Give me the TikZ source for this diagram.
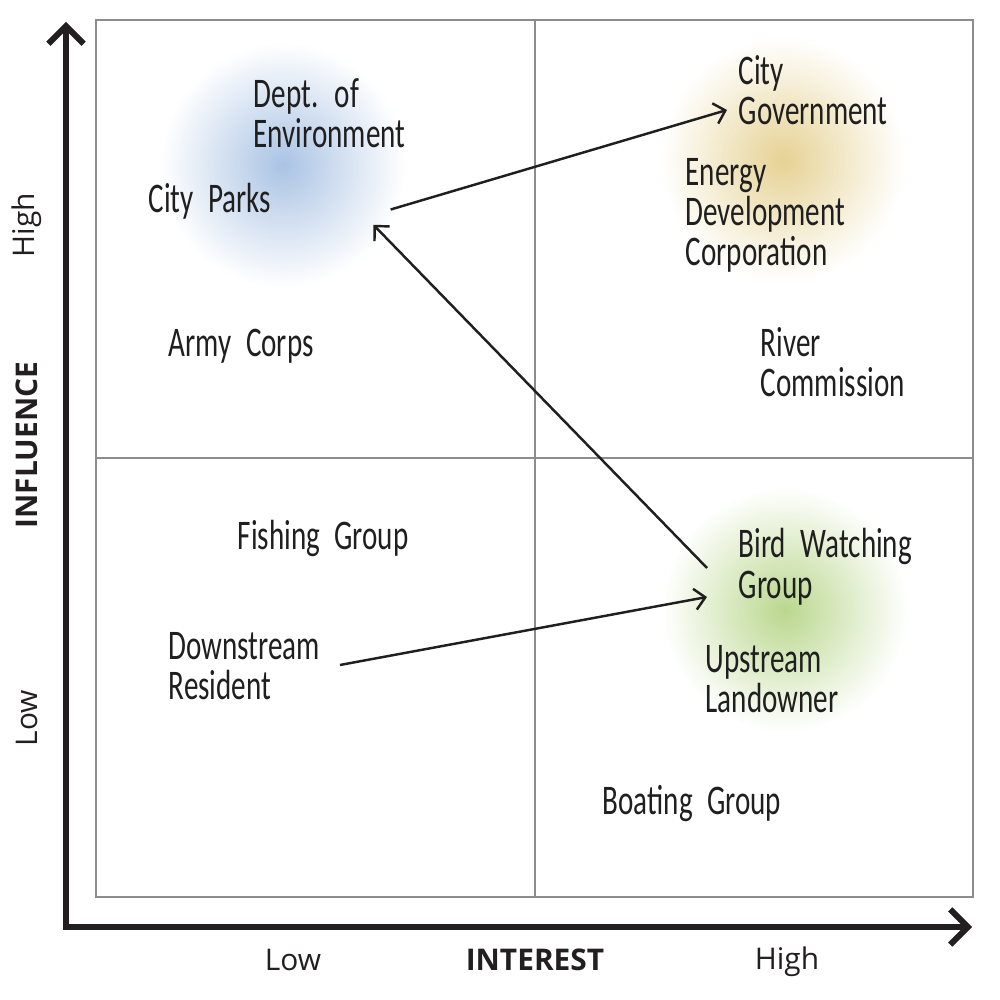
\documentclass[tikz,border=0pt]{standalone}
\usepackage{fontspec}
\usepackage{xcolor}
\usetikzlibrary{arrows.meta}
\usetikzlibrary{positioning}
\setmainfont{Open Sans}
\newfontfamily\handfont[FakeStretch=0.69, WordSpace=2.2]{Carlito}
\definecolor{glow-blue}{RGB}{170, 195, 228}
\definecolor{glow-yellow}{RGB}{230, 210, 148}
\definecolor{glow-green}{RGB}{186, 215, 142}
\definecolor{axis-grey}{RGB}{35, 31, 32}
\definecolor{box-grey}{RGB}{140, 140, 140}
\tikzset{
    glow/.style={circle, minimum size=2.45cm, inner sep=0pt, outer color=white},
    hand/.style={anchor=north west, inner sep=0pt, align=left, text=black!88,
        font=\handfont\fontsize{12}{11.4}\selectfont},
    axislabel/.style={font=\fontsize{8.5}{10}\selectfont, text=axis-grey},
    link/.style={line width=0.7pt, black!88, -{Straight Barb[length=3pt, width=6pt]}}
}
\begin{document}
\begin{tikzpicture}
                \useasboundingbox (0, 0) rectangle (10, 10);
                \node[glow, inner color=glow-blue] (blue) at (2.83, 8.35) {};
                \node[glow, inner color=glow-yellow] (yellow) at (7.83, 8.40) {};
                \node[glow, inner color=glow-green] (green) at (7.85, 3.90) {};
                \draw[box-grey, line width=0.6pt] (0.96, 1.03) rectangle (9.73, 9.80);
                \draw[box-grey, line width=0.6pt] (5.35, 1.03) -- (5.35, 9.80);
                \draw[box-grey, line width=0.6pt] (0.96, 5.42) -- (9.73, 5.42);
                \draw[axis-grey, line width=1.7pt, {Straight Barb[length=5pt, width=10pt]}-{Straight Barb[length=5pt, width=10pt]}] (0.66, 9.78) |- (9.72, 0.73);
                \node[hand] (dept) at (2.53, 9.22) {Dept. of\\Environment};
                \node[hand] (parks) at (1.48, 8.17) {City Parks};
                \node[hand] (army) at (1.68, 6.72) {Army Corps};
                \node[hand] (govt) at (7.38, 9.45) {City\\Government};
                \node[hand] (energy) at (6.85, 8.42) {Energy\\Development\\Corporation};
                \node[hand] (river) at (7.60, 6.73) {River\\Commission};
                \node[hand] (fishing) at (2.37, 4.80) {Fishing Group};
                \node[hand] (down) at (1.68, 3.68) {Downstream\\Resident};
                \node[hand] (bird) at (7.38, 4.72) {Bird Watching\\Group};
                \node[hand] (up) at (7.05, 3.55) {Upstream\\Landowner};
                \node[hand] (boating) at (6.02, 2.15) {Boating Group};
                \draw[link, shorten <=-0.85mm] (blue.-20) -- ([xshift=-1.1mm, yshift=-5.5mm]govt.north west);
                \draw[link, shorten >=-1.5mm] ([xshift=-3.1mm, yshift=-4.0mm]bird.north west) -- (blue.-35);
                \draw[link] ([xshift=17.2mm, yshift=-3.3mm]down.north west) -- ([xshift=-3.1mm, yshift=-6.9mm]bird.north west);
                \node[axislabel] (low-x) at (2.93, 0.40) {Low};
                \node[axislabel, font=\bfseries\fontsize{8.5}{10}\selectfont] (interest) at (5.35, 0.40) {INTEREST};
                \node[axislabel] (high-x) at (7.87, 0.38) {High};
                \node[axislabel, rotate=90] (high-y) at (0.27, 7.75) {High};
                \node[axislabel, rotate=90, font=\bfseries\fontsize{8.5}{10}\selectfont] (influence) at (0.27, 5.55) {INFLUENCE};
                \node[axislabel, rotate=90] (low-y) at (0.27, 2.82) {Low};
            \end{tikzpicture}
\end{document}
